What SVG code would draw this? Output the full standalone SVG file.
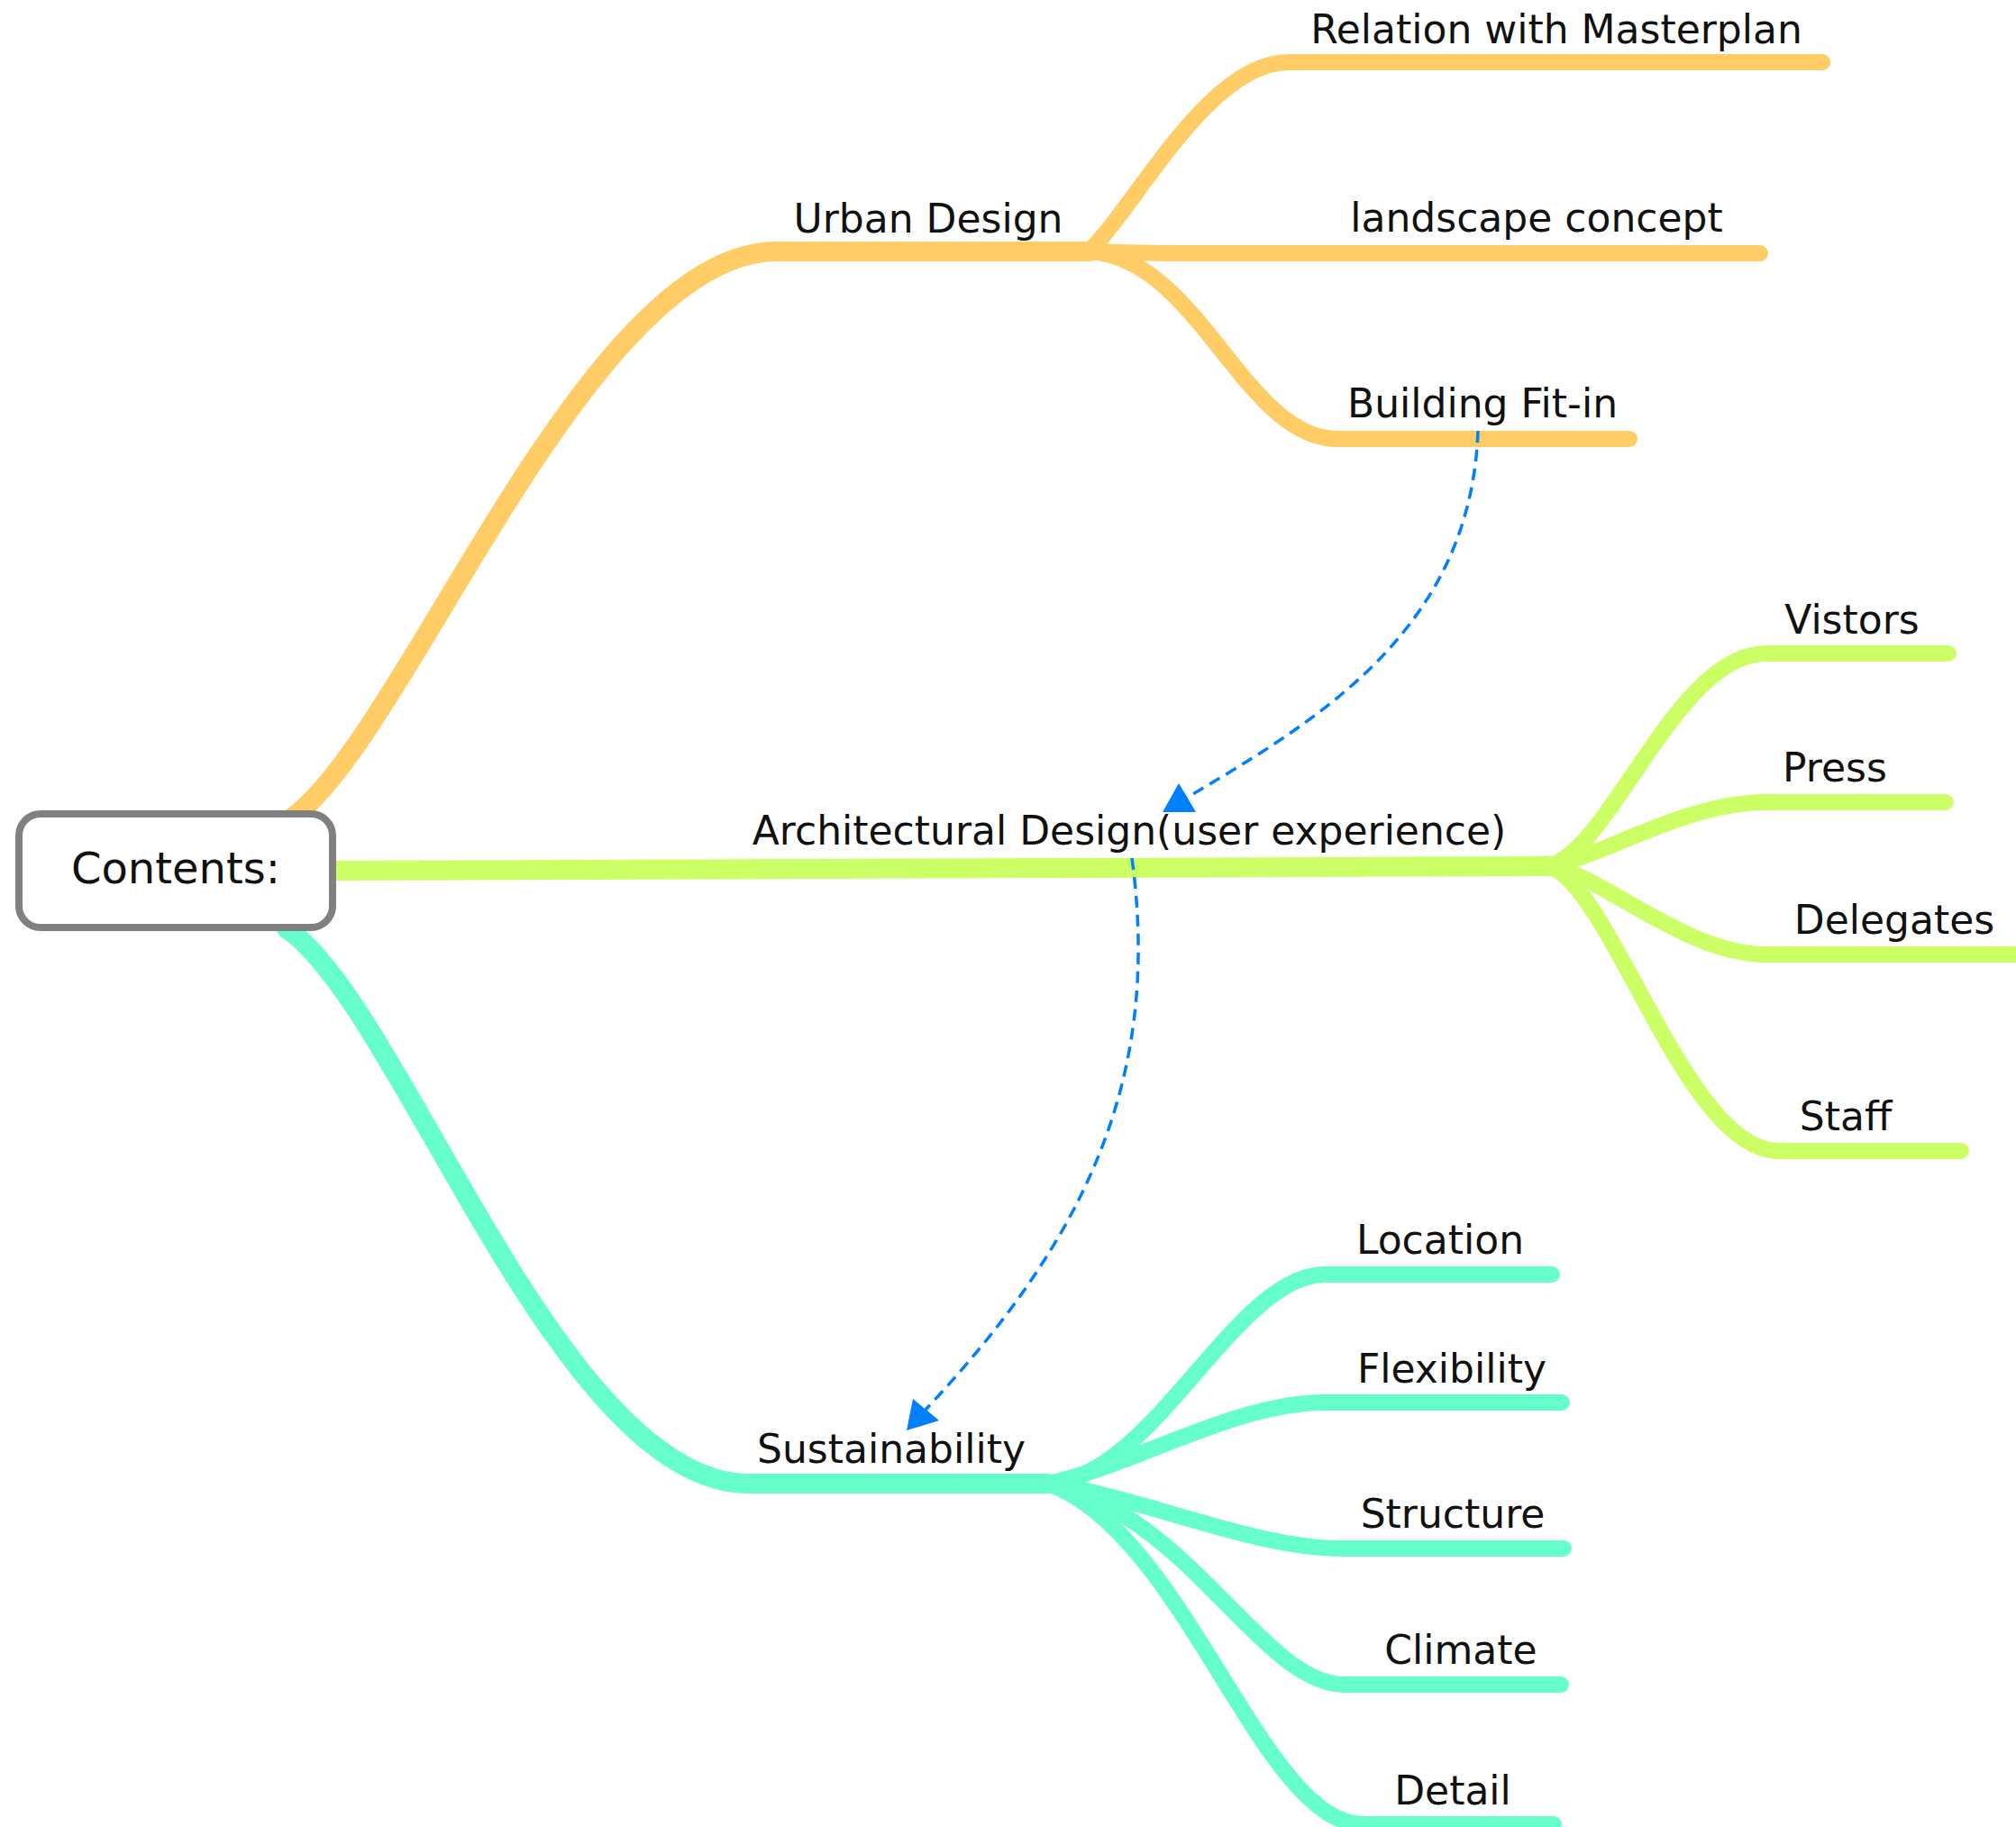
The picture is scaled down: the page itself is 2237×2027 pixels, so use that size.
<svg xmlns="http://www.w3.org/2000/svg" width="2237" height="2027" viewBox="0 0 2237 2027">
<style>
.br{fill:none;stroke-linecap:round;stroke-linejoin:round}
.main{stroke-width:22}
.sub{stroke-width:18}
.o{stroke:#FFCC66}
.g{stroke:#CCFF66}
.t{stroke:#66FFCC}
.rel{fill:none;stroke:#0080FF;stroke-width:3.5;stroke-dasharray:13 8}
.ah{fill:#0080FF}
.lbl{font-family:"DejaVu Sans","Liberation Sans",sans-serif;font-size:44px;fill:#111;text-anchor:middle}
.root-t{font-family:"DejaVu Sans","Liberation Sans",sans-serif;font-size:48px;fill:#111;text-anchor:middle}
</style>
<rect width="2237" height="2027" fill="#FFFFFF"/>
<g id="connectors">
  <path class="br main o" d="M323,908 C450,820 650,279 862,279 L1208,279"/>
  <path class="br sub o" d="M1208,279 C1260,230 1340,69 1430,69 L2022,69"/>
  <path class="br sub o" d="M1208,279 C1260,281 1300,281 1370,281 L1953,281"/>
  <path class="br sub o" d="M1208,279 C1330,285 1380,487 1484,487 L1808,487"/>
  <path class="br main g" d="M373,966 L1719,961"/>
  <path class="br sub g" d="M1719,961 C1790,940 1860,725 1960,725 L2162,725"/>
  <path class="br sub g" d="M1719,961 C1780,950 1870,890 1960,890 L2159,890"/>
  <path class="br sub g" d="M1719,961 C1780,972 1870,1059 1960,1059 L2260,1059"/>
  <path class="br sub g" d="M1719,961 C1790,985 1870,1277 1974,1277 L2176,1277"/>
  <path class="br main t" d="M318,1030 C445,1115 620,1646 831,1646 L1163,1646"/>
  <path class="br sub t" d="M1163,1646 C1280,1640 1370,1414 1470,1414 L1722,1414"/>
  <path class="br sub t" d="M1163,1646 C1260,1625 1370,1556 1470,1556 L1733,1556"/>
  <path class="br sub t" d="M1163,1646 C1270,1662 1390,1718 1490,1718 L1735,1718"/>
  <path class="br sub t" d="M1163,1646 C1320,1680 1400,1869 1492,1869 L1732,1869"/>
  <path class="br sub t" d="M1163,1646 C1315,1700 1400,2024 1512,2024 L1724,2024"/>
  <path class="rel" d="M1640,478 C1632,700 1460,800 1317,885"/>
  <polygon class="ah" points="1308,869 1327,901 1290,901"/>
  <path class="rel" d="M1256,952 C1290,1200 1200,1380 1027,1564"/>
  <polygon class="ah" points="1013,1552 1042,1576 1006,1587"/>
</g>
<g id="node-root">
  <rect x="21" y="903" width="348" height="126" rx="24" ry="24" fill="#FFFFFF" stroke="#808080" stroke-width="8"/>
  <text class="root-t" x="195" y="980">Contents:</text>
</g>
<g id="node-urban"><text class="lbl" x="1030" y="258">Urban Design</text></g>
<g id="node-relation"><text class="lbl" x="1727" y="48">Relation with Masterplan</text></g>
<g id="node-landscape"><text class="lbl" x="1705" y="257">landscape concept</text></g>
<g id="node-building"><text class="lbl" x="1645" y="463">Building Fit-in</text></g>
<g id="node-arch"><text class="lbl" x="1253" y="937">Architectural Design(user experience)</text></g>
<g id="node-vistors"><text class="lbl" x="2055" y="703">Vistors</text></g>
<g id="node-press"><text class="lbl" x="2036" y="867">Press</text></g>
<g id="node-delegates"><text class="lbl" x="2102" y="1036">Delegates</text></g>
<g id="node-staff"><text class="lbl" x="2048" y="1254">Staff</text></g>
<g id="node-sustain"><text class="lbl" x="989" y="1623">Sustainability</text></g>
<g id="node-location"><text class="lbl" x="1598" y="1391">Location</text></g>
<g id="node-flex"><text class="lbl" x="1611" y="1534">Flexibility</text></g>
<g id="node-structure"><text class="lbl" x="1612" y="1695">Structure</text></g>
<g id="node-climate"><text class="lbl" x="1621" y="1846">Climate</text></g>
<g id="node-detail"><text class="lbl" x="1612" y="2002">Detail</text></g>
</svg>
